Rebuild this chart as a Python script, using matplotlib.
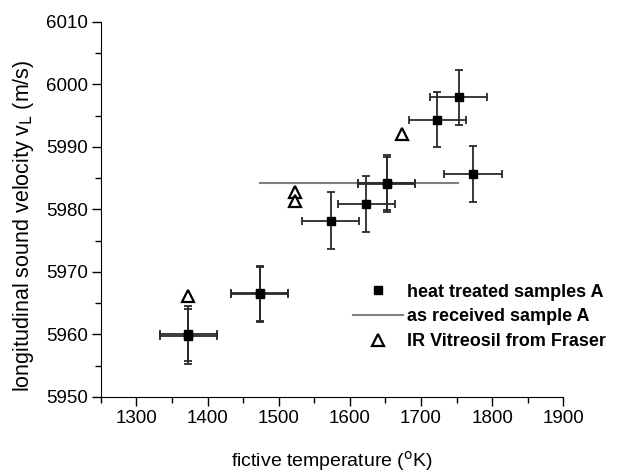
#!/usr/bin/env python

import numpy as np
import matplotlib
matplotlib.use('Agg')
import matplotlib.pyplot as plt
from matplotlib.ticker import MultipleLocator

plt.rcParams['font.family'] = ['Liberation Sans', 'DejaVu Sans']

# heat treated samples A (fictive temperature, sound velocity, errors)
ht_temp = [1373, 1373, 1473, 1473, 1573, 1623, 1652, 1652, 1723, 1753, 1773]
ht_vel = [5960.1, 5959.7, 5966.55, 5966.45, 5978.2, 5980.9, 5984.25, 5984.0,
          5994.3, 5997.9, 5985.7]
ht_temp_err = [40, 40, 40, 40, 40, 40, 40, 40, 40, 40, 41]
ht_vel_err = [4.4, 4.4, 4.4, 4.4, 4.5, 4.5, 4.4, 4.4, 4.4, 4.4, 4.5]

# as received sample A: temperature range at a single velocity
ar_temp = [1473, 1752]
ar_vel = [5984.2, 5984.2]

# IR Vitreosil from Fraser
ir_temp = [1373, 1523, 1523, 1673]
ir_vel = [5966.2, 5982.7, 5981.3, 5992.0]

fig = plt.figure(figsize=(6.23, 4.73), dpi=100)
ax = fig.add_axes([0.162, 0.161, 0.742, 0.793])

ax.errorbar(ht_temp, ht_vel, xerr=ht_temp_err, yerr=ht_vel_err, fmt='none',
            ecolor='#2a2a2a', elinewidth=1.3, capsize=2.6, capthick=1.3, zorder=2)
ax.plot(ht_temp, ht_vel, 's', color='black', markersize=5.5, zorder=3,
        label='heat treated samples A')
ax.plot(ar_temp, ar_vel, '-', color='#808080', linewidth=1.5, zorder=1,
        label='as received sample A')
ax.plot(ir_temp, ir_vel, '^', markerfacecolor='white', markeredgecolor='black',
        markeredgewidth=1.6, markersize=8, linestyle='none', zorder=4,
        label='IR Vitreosil from Fraser')

ax.set_xlim(1250, 1900)
ax.set_ylim(5950, 6010)
ax.xaxis.set_major_locator(MultipleLocator(100))
ax.xaxis.set_minor_locator(MultipleLocator(50))
ax.yaxis.set_major_locator(MultipleLocator(10))
ax.yaxis.set_minor_locator(MultipleLocator(5))
ax.tick_params(which='major', direction='out', length=6.5, width=1,
               labelsize=13.5, pad=3)
ax.tick_params(which='minor', direction='out', length=4.3, width=1)
ax.spines['top'].set_visible(False)
ax.spines['right'].set_visible(False)

ax.set_xlabel('fictive temperature ($^{\\rm o}$K)', fontsize=14)
ax.xaxis.set_label_coords(0.5, -0.14)
ax.set_ylabel('longitudinal sound velocity v$_{\\rm L}$ (m/s)', fontsize=15.5)
ax.yaxis.set_label_coords(-0.14, 0.456)

leg = ax.legend(loc='upper left', bbox_to_anchor=(0.51, 0.345), frameon=False,
                handlelength=2.8, handletextpad=0.2, labelspacing=0.42,
                prop={'weight': 'bold', 'size': 13})

fig.savefig('out.png', dpi=100)
